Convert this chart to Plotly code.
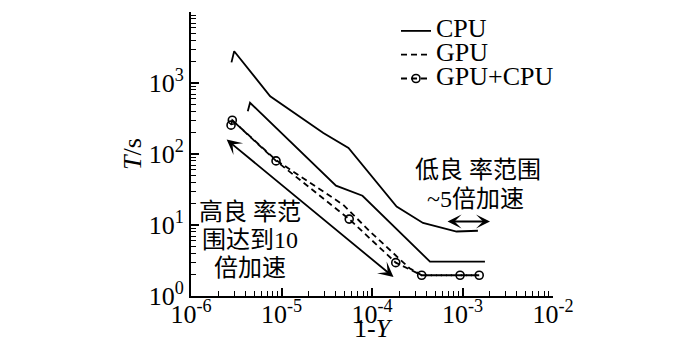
import plotly.graph_objects as go

# ---- data (x = 1-Y, y = T/s) ----
cpu_x = [2.8e-6, 3.0e-6, 7.5e-6, 2.9e-5, 5.5e-5, 1.87e-4, 3.66e-4, 8.6e-4, 1.48e-3]
cpu_y = [1950, 2800, 650, 198, 122, 18.2, 10.7, 8.1, 8.3]

cpu2_x = [4.24e-6, 4.49e-6, 4.0e-5, 7.85e-5, 4.37e-4, 1.77e-3]
cpu2_y = [400, 527, 35.8, 25.8, 3.05, 3.05]

gpu_x = [2.86e-6, 8.7e-6, 4.8e-5, 9.5e-5, 2.6e-4, 3.54e-4, 1.53e-3]
gpu_y = [299, 82, 19.3, 8.1, 2.46, 1.96, 1.96]

gc_x = [2.77e-6, 2.86e-6, 8.7e-6, 5.6e-5, 1.83e-4, 3.54e-4, 9.4e-4, 1.53e-3]
gc_y = [255, 299, 80, 12.1, 2.95, 1.96, 1.96, 1.96]

x_tickvals = [1e-6, 1e-5, 1e-4, 1e-3, 1e-2]
x_ticktext = ["10<sup>-6</sup>", "10<sup>-5</sup>", "10<sup>-4</sup>", "10<sup>-3</sup>", "10<sup>-2</sup>"]
y_tickvals = [1, 10, 100, 1000, 10000]
y_ticktext = ["10<sup>0</sup>", "10<sup>1</sup>", "10<sup>2</sup>", "10<sup>3</sup>", "10<sup>4</sup>"]

FONT = "Liberation Serif, Times New Roman, Noto Sans CJK SC, serif"
LW = 1.8
DASH = "6px,4px"


def leg(name):
    return '<span style="font-size:26px">' + name + '</span>'


fig = go.Figure()
fig.add_trace(go.Scatter(x=cpu_x, y=cpu_y, mode="lines", name=leg("CPU"),
                         line=dict(color="black", width=LW)))
fig.add_trace(go.Scatter(x=cpu2_x, y=cpu2_y, mode="lines", name="CPU (2)", showlegend=False,
                         line=dict(color="black", width=LW)))
fig.add_trace(go.Scatter(x=gpu_x, y=gpu_y, mode="lines", name=leg("GPU"),
                         line=dict(color="black", width=LW, dash=DASH)))
fig.add_trace(go.Scatter(x=gc_x, y=gc_y, mode="lines+markers", name=leg("GPU+CPU"),
                         line=dict(color="black", width=LW, dash=DASH),
                         marker=dict(symbol="circle-open", size=8, color="black",
                                     line=dict(width=1.6, color="black"))))

minor_x = [k * 10.0 ** e for e in range(-6, -2) for k in range(2, 10)]
minor_y = [k * 10.0 ** e for e in range(0, 4) for k in range(2, 10)]

fig.update_xaxes(type="log", range=[-6, -2], showgrid=False, zeroline=False,
                 showline=True, linecolor="black", linewidth=2,
                 ticks="inside", ticklen=8, tickwidth=1.5, tickcolor="black",
                 tickmode="array", tickvals=x_tickvals, ticktext=x_ticktext,
                 tickfont=dict(family=FONT, size=26, color="black"),
                 ticklabelstandoff=-6,
                 minor=dict(tickmode="array", tickvals=minor_x, ticks="inside",
                            ticklen=5, tickwidth=1.2, tickcolor="black", showgrid=False),
                 automargin=False)
fig.update_yaxes(type="log", range=[0, 4], showgrid=False, zeroline=False,
                 showline=True, linecolor="black", linewidth=2,
                 ticks="inside", ticklen=8, tickwidth=1.5, tickcolor="black",
                 tickmode="array", tickvals=y_tickvals, ticktext=y_ticktext,
                 tickfont=dict(family=FONT, size=26, color="black"),
                 minor=dict(tickmode="array", tickvals=minor_y, ticks="inside",
                            ticklen=5, tickwidth=1.2, tickcolor="black", showgrid=False),
                 title=dict(text="<i>T</i>/s", font=dict(family=FONT, size=26, color="black"),
                            standoff=0),
                 automargin=False)

ann_font = dict(family=FONT, size=24, color="black")
annotations = [
    # text blocks
    dict(text="高良 率范", x=(250 - 191) / 362, y=(296 - 212) / 284),
    dict(text="围达到10", x=(250 - 191) / 362, y=(296 - 240) / 284),
    dict(text="倍加速", x=(250 - 191) / 362, y=(296 - 268) / 284),
    dict(text="低良 率范围", x=(478 - 191) / 362, y=(296 - 170) / 284),
    dict(text="~5倍加速", x=(475 - 191) / 362, y=(296 - 199) / 284),
]
for a in annotations:
    a.update(xref="paper", yref="paper", showarrow=False, font=ann_font,
             xanchor="center", yanchor="middle")

# x-axis title
annotations.append(dict(text="1-<i>Y</i>", xref="paper", yref="paper",
                        x=(373 - 191) / 362, y=(296 - 328) / 284,
                        xanchor="center", yanchor="middle", showarrow=False,
                        font=dict(family=FONT, size=26, color="black")))

# arrows (in log-axis units)
annotations.append(dict(x=-5.606, y=2.203, ax=-3.746, ay=0.25, xref="x", yref="y",
                        axref="x", ayref="y", text="", showarrow=True,
                        arrowside="end+start", arrowhead=3, startarrowhead=3,
                        arrowsize=1.4, startarrowsize=1.4, arrowwidth=1.8,
                        arrowcolor="black", standoff=0, startstandoff=0))
annotations.append(dict(x=-2.696, y=1.049, ax=-3.182, ay=1.049, xref="x", yref="y",
                        axref="x", ayref="y", text="", showarrow=True,
                        arrowside="end+start", arrowhead=3, startarrowhead=3,
                        arrowsize=1.3, startarrowsize=1.3, arrowwidth=1.8,
                        arrowcolor="black", standoff=0, startstandoff=0))

fig.update_layout(
    width=700, height=342,
    margin=dict(l=191, r=147, t=12, b=46),
    paper_bgcolor="white", plot_bgcolor="white",
    font=dict(family=FONT, color="black"),
    annotations=annotations,
    legend=dict(x=(396 - 191) / 362, y=(296 - 14) / 284, xanchor="left", yanchor="top",
                bgcolor="rgba(0,0,0,0)", borderwidth=0,
                font=dict(family=FONT, size=16, color="black"),
                itemwidth=30),
)

fig.write_html("out.html")
